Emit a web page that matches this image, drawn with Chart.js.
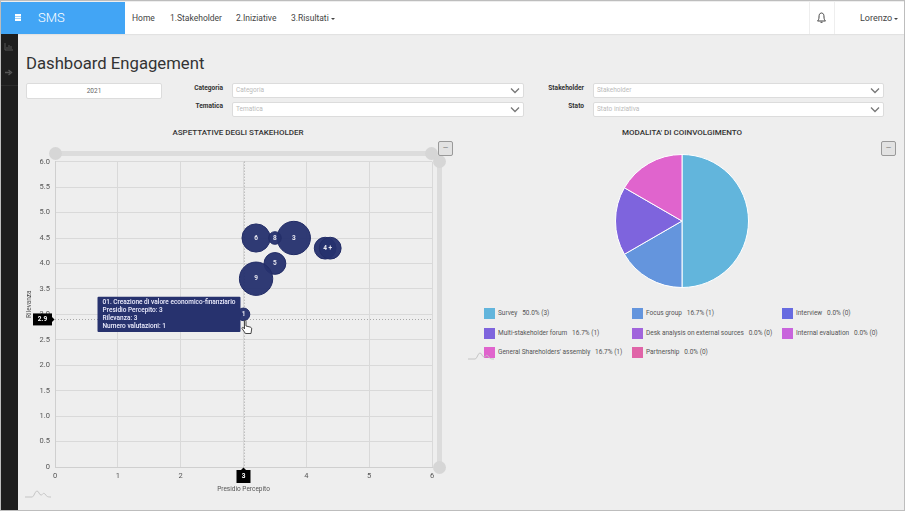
<!DOCTYPE html>
<html>
<head>
<meta charset="utf-8">
<title>Dashboard Engagement</title>
<script src="https://cdn.jsdelivr.net/npm/chart.js@4"></script>
<style>
html, body { margin: 0; padding: 0; }
body { width: 905px; height: 511px; position: relative; overflow: hidden; background: #eeeeee; font-family: Roboto, sans-serif; color: #444; }
.abs { position: absolute; }
#frame { left: 0; top: 0; width: 903px; height: 509px; border: 1px solid #bdbdbd; pointer-events: none; z-index: 9; }
#nav { left: 1px; top: 2px; width: 903px; height: 32px; background: #fff; box-shadow: 0 1px 1px #e2e2e2; }
#brand { left: 1px; top: 2px; width: 124px; height: 32px; background: #42a5f5; color: #fff; }
#side { left: 1px; top: 34px; width: 17px; height: 476px; background: #1e1e1e; }
.menu { top: 13px; font-size: 8.5px; color: #444; white-space: nowrap; }
.caret { display: inline-block; width: 0; height: 0; border-left: 2.5px solid transparent; border-right: 2.5px solid transparent; border-top: 2.5px solid #444; vertical-align: 1.5px; margin-left: 2px; }
.box { background: #fff; border: 1px solid #dcdcdc; border-radius: 2px; box-sizing: border-box; font-size: 6.5px; color: #bbb; line-height: 13px; padding-left: 3px; }
.lbl { font-size: 6.6px; font-weight: 700; color: #333; text-align: right; width: 60px; }
.chev { position: absolute; right: 3px; top: 3px; }
.title { font-size: 8px; font-weight: 500; color: #333; text-align: center; white-space: nowrap; }
.track { background: #dcdcdc; }
.knob { width: 13px; height: 13px; border-radius: 50%; background: #d6d6d6; }
.btn { width: 13px; height: 13px; border: 1px solid #999; background: #e2e2e2; border-radius: 2px; color: #777; font-size: 7px; line-height: 12px; text-align: center; }
.leg { font-size: 6.5px; color: #555; white-space: pre; line-height: 11px; }
.sw { width: 11px; height: 11px; }
canvas { display: block; }
</style>
</head>
<body>
<div class="abs" id="nav"></div>
<div class="abs" id="brand">
  <div class="abs" style="left:14px;top:12px;width:6px;height:1.5px;background:#fff;box-shadow:0 2.5px 0 #fff,0 5px 0 #fff"></div>
  <div class="abs" style="left:37px;top:8px;font-size:13px;font-weight:300;">SMS</div>
</div>
<div class="abs menu" style="left:132px">Home</div>
<div class="abs menu" style="left:170px">1.Stakeholder</div>
<div class="abs menu" style="left:236px">2.Iniziative</div>
<div class="abs menu" style="left:291px">3.Risultati<span class="caret"></span></div>
<div class="abs" style="left:809px;top:2px;width:24px;height:32px;border-left:1px solid #eee;border-right:1px solid #eee"></div>
<svg class="abs" style="left:816px;top:12px" width="11" height="12" viewBox="0 0 11 12"><path d="M5.5 1C3.5 1 3 3 3 5C3 7 2.5 8 1.5 9H9.5C8.5 8 8 7 8 5C8 3 7.500 1 5.500 1ZM4.500 10.300H6.500" fill="none" stroke="#444" stroke-width="1"/></svg>
<div class="abs menu" style="left:860px;font-size:9px">Lorenzo<span class="caret"></span></div>

<div class="abs" id="side">
  <svg class="abs" style="left:3px;top:8px" width="10" height="9"><path d="M1 1V8H9M3 7V5M5 7V3M7 7V4" stroke="#555" fill="none"/></svg>
  <svg class="abs" style="left:3px;top:34px" width="10" height="9"><path d="M1 4.500H6M4.500 2L7.500 4.500L4.500 7" stroke="#555" fill="none" stroke-width="1.400"/></svg>
  <div class="abs" style="left:0;top:51px;width:17px;height:1px;background:#2c2c2c"></div>
</div>

<div class="abs" style="left:26px;top:54px;font-size:16.700px;color:#333;white-space:nowrap">Dashboard Engagement</div>

<div class="abs box" style="left:26px;top:83px;width:136px;height:16px;text-align:center;padding:0;color:#666;line-height:15px">2021</div>
<div class="abs lbl" style="left:163px;top:84px">Categoria</div>
<div class="abs lbl" style="left:163px;top:102px">Tematica</div>
<div class="abs lbl" style="left:524px;top:84px">Stakeholder</div>
<div class="abs lbl" style="left:524px;top:102px">Stato</div>
<div class="abs box select" style="left:232px;top:83px;width:292px;height:15px">Categoria</div>
<div class="abs box select" style="left:232px;top:102px;width:292px;height:15px">Tematica</div>
<div class="abs box select" style="left:593px;top:83px;width:291px;height:15px">Stakeholder</div>
<div class="abs box select" style="left:593px;top:102px;width:291px;height:15px">Stato iniziativa</div>

<div class="abs title" style="left:38px;top:128px;width:400px">ASPETTATIVE DEGLI STAKEHOLDER</div>
<div class="abs title" style="left:482px;top:128px;width:400px">MODALITA' DI COINVOLGIMENTO</div>

<div class="abs track" style="left:55px;top:151px;width:377px;height:5px"></div>
<div class="abs knob" style="left:49px;top:147px"></div>
<div class="abs knob" style="left:425px;top:147px"></div>
<div class="abs track" style="left:437px;top:161px;width:5px;height:306px"></div>
<div class="abs knob" style="left:433px;top:155px"></div>
<div class="abs knob" style="left:433px;top:461px"></div>
<div class="abs btn" style="left:438px;top:141px">&mdash;</div>
<div class="abs btn" style="left:881px;top:141px">&mdash;</div>

<div class="abs" style="left:20px;top:144px;width:430px;height:351px"><canvas id="bubbleChart"></canvas></div>
<div class="abs" style="left:602px;top:141px;width:160px;height:160px"><canvas id="pieChart"></canvas></div>
<div id="legend"></div>

<svg class="abs" style="left:24px;top:489px" width="28" height="10"><path d="M1 8H8C10 8 11 2 13 2C15 2 15 6 17 6C19 6 19 3 21 5C23 8 24 8 27 8" fill="none" stroke="#c4c4c4"/></svg>
<svg class="abs" style="left:467px;top:351px" width="28" height="10"><path d="M1 8H8C10 8 11 2 13 2C15 2 15 6 17 6C19 6 19 3 21 5C23 8 24 8 27 8" fill="none" stroke="#c4c4c4"/></svg>
<svg class="abs" style="left:241px;top:319px;z-index:5" width="12" height="16" viewBox="0 0 12 16"><path d="M3.500 1.500C4.500 1 5 1.500 5 2.500V7L9 8C10.500 8.500 11 9 10.500 11L10 14.500H4.500L1 9.500C.5 8.500 2 8 3 9L3.500 10Z" fill="#fff" stroke="#333" stroke-width=".9"/></svg>

<div id="frame" class="abs"></div>

<script>
const bubbleLabels = ['1', '3', '4', '+', '5', '6', '8', '9'];
const presidio = [3, 3.8, 4.3, 4.38, 3.5, 3.2, 3.5, 3.2];
const rilevanza = [3, 4.5, 4.3, 4.3, 4, 4.5, 4.5, 3.7];
const valutazioni = [1, 7, 3, 3, 3, 5, 1, 7];
const bubbleTitles = ['01. Creazione di valore economico-finanziario', '03', '04', '+', '05', '06', '08', '09'];
const activeBubble = 0;
const crossX = 3;
const crossY = 2.9;

const xTicks = [0, 1, 2, 3, 4, 5, 6];
const yTicks = [0, 0.5, 1, 1.5, 2, 2.5, 3, 3.5, 4, 4.5, 5, 5.5, 6];

const modalita = ['Survey', 'Focus group', 'Interview', 'Multi-stakeholder forum', 'Desk analysis on external sources', 'Internal evaluation', "General Shareholders' assembly", 'Partnership'];
const modalitaValues = [3, 1, 0, 1, 0, 0, 1, 0];
const modalitaColors = ['#62b5dc', '#6495dd', '#676be0', '#7e64dd', '#a164dc', '#c864dc', '#e064cd', '#e064a8'];

const navy = '#27326e';
const tickFont = { family: 'Roboto', size: 7.5 };

document.querySelectorAll('.select').forEach(el => {
	el.insertAdjacentHTML('beforeend', '<svg class="chev" width="10" height="7"><path d="M1 1.500L5 5.500L9 1.500" fill="none" stroke="#777" stroke-width="1.300"/></svg>');
});

// labels inside the bubbles, crosshair and its two value flags
const overlayPlugin = {
	id: 'overlay',
	beforeDatasetsDraw(chart) {
		const { ctx, chartArea, scales } = chart;
		const px = Math.round(scales.x.getPixelForValue(crossX)) + 0.5;
		const py = Math.round(scales.y.getPixelForValue(crossY)) + 0.5;
		ctx.save();
		ctx.strokeStyle = '#a8a8a8';
		ctx.lineWidth = 1;
		ctx.setLineDash([1, 2]);
		ctx.beginPath();
		ctx.moveTo(px, chartArea.top);
		ctx.lineTo(px, chartArea.bottom);
		ctx.moveTo(chartArea.left, py);
		ctx.lineTo(chartArea.right, py);
		ctx.stroke();
		ctx.restore();
	},
	afterDatasetsDraw(chart) {
		const { ctx, chartArea, scales } = chart;
		const meta = chart.getDatasetMeta(0);
		ctx.save();
		ctx.fillStyle = '#e8e8f0';
		ctx.font = '700 6.5px Roboto';
		ctx.textAlign = 'center';
		ctx.textBaseline = 'middle';
		meta.data.forEach((el, i) => ctx.fillText(bubbleLabels[i], el.x, el.y));

		const px = scales.x.getPixelForValue(crossX);
		const py = scales.y.getPixelForValue(crossY);
		ctx.fillStyle = '#000';
		ctx.fillRect(px - 7, chartArea.bottom + 3, 14, 13);
		ctx.beginPath();
		ctx.moveTo(px - 2.5, chartArea.bottom + 3);
		ctx.lineTo(px, chartArea.bottom + 0.5);
		ctx.lineTo(px + 2.5, chartArea.bottom + 3);
		ctx.fill();
		ctx.fillRect(chartArea.left - 22, py - 6, 19, 12);
		ctx.beginPath();
		ctx.moveTo(chartArea.left - 3, py - 2.5);
		ctx.lineTo(chartArea.left - 0.5, py);
		ctx.lineTo(chartArea.left - 3, py + 2.5);
		ctx.fill();
		ctx.fillStyle = '#fff';
		ctx.fillText(String(crossX), px, chartArea.bottom + 9.5);
		ctx.fillText(String(crossY), chartArea.left - 12.5, py);

		// y axis title sits above the middle of the axis in the original
		ctx.translate(chartArea.left - 26, scales.y.getPixelForValue(3.2));
		ctx.rotate(-Math.PI / 2);
		ctx.fillStyle = '#555';
		ctx.font = '6.5px Roboto';
		ctx.fillText('Rilevanza', 0, 0);
		ctx.restore();
	}
};

const bubbleChart = new Chart(document.getElementById('bubbleChart'), {
	type: 'bubble',
	plugins: [overlayPlugin],
	data: {
		datasets: [{
			data: presidio.map((x, i) => ({ x: x, y: rilevanza[i], r: 6.3 * Math.sqrt(valutazioni[i]) })),
			backgroundColor: 'rgba(39,50,110,0.96)',
			borderColor: '#222c66',
			borderWidth: 1,
			hoverBorderWidth: 1,
			hoverRadius: 0
		}]
	},
	options: {
		responsive: true,
		maintainAspectRatio: false,
		animation: false,
		events: [],
		layout: { padding: { top: 5, right: 18, bottom: 0, left: 0 } },
		scales: {
			x: {
				type: 'linear', min: 0, max: 6,
				afterBuildTicks: axis => { axis.ticks = xTicks.map(v => ({ value: v })); },
				afterFit: axis => { axis.height = 28; },
				grid: { color: '#d9d9d9', drawTicks: false },
				border: { color: '#cfcfcf' },
				ticks: { font: tickFont, color: '#555', padding: 5, maxRotation: 0 },
				title: { display: true, text: 'Presidio Percepito', font: { family: 'Roboto', size: 6.5 }, color: '#555', padding: { top: 0, bottom: 2 } }
			},
			y: {
				type: 'linear', min: 0, max: 6,
				afterBuildTicks: axis => { axis.ticks = yTicks.map(v => ({ value: v })); },
				afterFit: axis => { axis.width = 35; },
				grid: { color: '#d9d9d9', drawTicks: false },
				border: { color: '#cfcfcf' },
				ticks: { font: tickFont, color: '#555', padding: 5, callback: v => v === 0 ? '0' : v.toFixed(1) }
			}
		},
		plugins: {
			legend: { display: false },
			tooltip: {
				enabled: true,
				xAlign: 'right',
				yAlign: 'center',
				backgroundColor: navy,
				titleColor: '#eef',
				bodyColor: '#eef',
				titleFont: { family: 'Roboto', size: 6.5, weight: '500', lineHeight: 1.2 },
				bodyFont: { family: 'Roboto', size: 6.5, weight: '500', lineHeight: 1.2 },
				titleMarginBottom: 0,
				titleSpacing: 0,
				bodySpacing: 0,
				padding: { left: 5, right: 5, top: 2, bottom: 2 },
				cornerRadius: 1,
				caretSize: 3,
				caretPadding: 0,
				displayColors: false,
				callbacks: {
					title: items => bubbleTitles[items[0].dataIndex],
					label: item => [
						'Presidio Percepito: ' + presidio[item.dataIndex],
						'Rilevanza: ' + rilevanza[item.dataIndex],
						'Numero valutazioni: ' + valutazioni[item.dataIndex]
					]
				}
			}
		}
	}
});

const activeEl = bubbleChart.getDatasetMeta(0).data[activeBubble];
bubbleChart.tooltip.setActiveElements([{ datasetIndex: 0, index: activeBubble }], { x: activeEl.x, y: activeEl.y });
bubbleChart.update();

new Chart(document.getElementById('pieChart'), {
	type: 'pie',
	data: {
		labels: modalita,
		datasets: [{ data: modalitaValues, backgroundColor: modalitaColors, borderColor: '#fff', borderWidth: 1 }]
	},
	options: {
		responsive: true,
		maintainAspectRatio: false,
		animation: false,
		events: [],
		layout: { padding: 13 },
		plugins: { legend: { display: false }, tooltip: { enabled: false } }
	}
});

// legend laid out in three columns like the page widget
const total = modalitaValues.reduce((a, b) => a + b, 0);
const legendX = [484, 632, 782];
const legendY = [308, 328, 347];
document.getElementById('legend').innerHTML = modalita.map((name, i) => {
	const left = legendX[i % 3];
	const top = legendY[Math.floor(i / 3)];
	const pct = (modalitaValues[i] / total * 100).toFixed(1);
	return '<div class="abs sw" style="left:' + left + 'px;top:' + top + 'px;background:' + modalitaColors[i] + '"></div>' +
		'<div class="abs leg" style="left:' + (left + 14) + 'px;top:' + top + 'px">' + name + '   ' + pct + '% (' + modalitaValues[i] + ')</div>';
}).join('');
</script>
</body>
</html>
